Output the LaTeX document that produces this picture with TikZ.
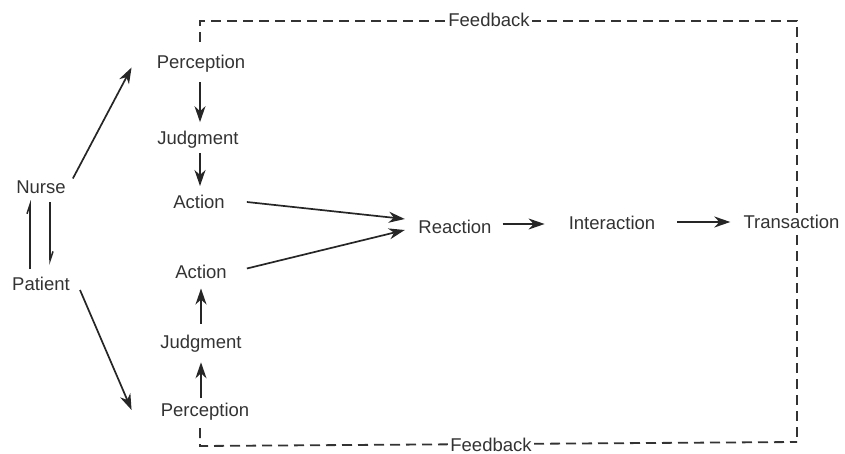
\documentclass[tikz,border=0pt]{standalone}
\usepackage{fontspec}
\setmainfont{Liberation Sans}
\usetikzlibrary{arrows.meta}
\begin{document}
\begin{tikzpicture}[x=1pt,y=-1pt,
  lbl/.style={font=\fontsize{18.5}{20}\selectfont, text=black!80, inner sep=1pt},
  arr/.style={draw=black!85, line width=1.7pt, -{Stealth[length=16pt,width=11pt,inset=5pt]}},
  harp/.style={draw=black!85, line width=1.5pt, -{Straight Barb[harpoon,length=9pt,width=6pt]}},
  fb/.style={draw=black!80, line width=1.8pt, dash pattern=on 10pt off 6pt}]
\useasboundingbox (0,0) rectangle (845,454);
% nodes
\node[lbl] (nurse) at (41,187.5) {Nurse};
\node[lbl] (patient) at (41,284) {Patient};
\node[lbl] (perc1) at (201,63.5) {Perception};
\node[lbl] (judg1) at (198,140) {Judgment};
\node[lbl] (act1) at (199,202) {Action};
\node[lbl] (act2) at (201,271.5) {Action};
\node[lbl] (judg2) at (201,343.5) {Judgment};
\node[lbl] (perc2) at (205,412) {Perception};
\node[lbl] (react) at (455,227) {Reaction};
\node[lbl] (inter) at (612,223) {Interaction};
% feedback loop
\coordinate (c1) at (200,42);
\coordinate (c2) at (200,21);
\coordinate (c3) at (797,21);
\coordinate (c4) at (797,442);
\coordinate (c5) at (200,446);
\coordinate (c6) at (200,428);
\draw[fb] (c1) -- (c2) -- (c3) -- (c4);
\draw[fb] (c6) -- (c5) -- (c4);
\node[lbl, fill=white, inner xsep=2pt] (fb1) at (489,20) {Feedback};
\node[lbl, fill=white, inner xsep=2pt] (fb2) at (491,445) {Feedback};
\node[lbl, fill=white, inner xsep=0pt] (trans) at (791.5,222) {Transaction};
% connectors
\draw[arr] ([shift={(6,-9)}]nurse.east) -- ([shift={(-24,4)}]perc1.west);
\draw[arr] ([shift={(9,6)}]patient.east) -- ([shift={(-28,-2)}]perc2.west);
\draw[harp] ([shift={(-11,-7)}]patient.north) -- ([shift={(-11,5)}]nurse.south);
\draw[harp] ([shift={(9,7)}]nurse.south) -- ([shift={(9,-11)}]patient.north);
\draw[arr] ([shift={(-1,9)}]perc1.south) -- ([shift={(2,-8)}]judg1.north);
\draw[arr] ([shift={(2,3)}]judg1.south) -- ([shift={(1,-8)}]act1.north);
\draw[arr] ([shift={(-4,-4)}]perc2.north) -- ([shift={(0,9)}]judg2.south);
\draw[arr] ([shift={(0,-10)}]judg2.north) -- ([shift={(0,9)}]act2.south);
\draw[arr] ([shift={(21,0)}]act1.east) -- ([shift={(-12.5,-8)}]react.west);
\draw[arr] ([shift={(19,-3)}]act2.east) -- ([shift={(-12.5,3)}]react.west);
\draw[arr] ([shift={(10,-3)}]react.east) -- ([shift={(-23,1)}]inter.west);
\draw[arr] ([shift={(21,-1)}]inter.east) -- ([shift={(-13,0)}]trans.west);
\end{tikzpicture}
\end{document}
